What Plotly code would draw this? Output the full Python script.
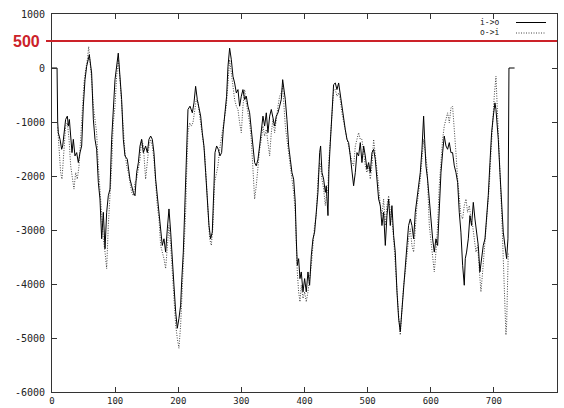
import plotly.graph_objects as go

# i->o series (solid)
io_x = [0, 8, 9, 10, 12.7, 15.3, 16.9, 19, 21.6, 24.3, 25.9, 27.5, 29.6, 31.7, 33.8, 36.4, 39.1, 41.7, 44.4, 47,
        49.6, 52.3, 54.9, 57.5, 59.1, 62.8, 65.5, 68.1, 70.7, 73.4, 76, 78.7, 81.3, 84, 86.6, 89.2, 91.9, 94.5, 97.1, 99.8,
        105, 107.7, 110.3, 113, 115.6, 119.3, 123.5, 126.2, 128.8, 131.5, 134.1, 136.8, 139.4, 142, 144.7,
        148.3, 151, 153.6, 156.3, 158.9, 161.5, 164.2, 166.8, 169.5, 172.1, 174.7, 177.4, 180, 182.7, 185.3, 188, 190.6,
        193.2, 195.9, 198.5, 201.1, 203.8, 205.4, 208, 210.1, 211.7, 213.3, 215.4, 218.6, 222.3, 224.9, 227.5, 230.2,
        232.8, 235.5, 238.1, 240.7, 243.4, 246, 248.7, 251.3, 253.9, 256.6, 258.2, 260.8, 263.4, 266.1, 268.7, 271.4,
        274, 276.6, 278.8, 281.4, 284.1, 286.7, 289.3, 292, 294.6,
        297.2, 299.9, 302.5, 305.2, 307.8, 310.4, 313.1, 315.7, 318.4, 321, 323.6, 326.3, 328.9, 331.6, 334.2, 336.8,
        339.5, 342.1, 344.8, 347.4, 350, 352.7, 355.3, 358, 360.6, 363.2, 365.4, 367.5, 369.6, 372.2, 374.9, 377.5,
        380.1, 382.8, 385.4, 387, 388.6, 390.7, 392.8, 394.9, 397.6, 400.2, 402.8, 405.5, 408.1, 410.8, 413.4, 416,
        418.7, 421.3, 424, 425.5, 427.7, 430.3, 433, 434.5, 437.2, 438.7, 440.9, 443.5,
        446.1, 448.8, 451.4, 454.1, 456.7, 459.3, 462, 464.6, 467.3, 469.9, 472.5, 475.2, 477.8, 480.5, 483.1, 485.7,
        488.4, 491, 493.7, 496.3, 498.9, 501.6, 504.2, 506.9, 509.5, 512.1, 514.8, 517.4, 520.1, 522.7, 525.3, 528,
        530.6, 533.3, 535.9, 538.5, 541.2, 543.8, 546.5, 549.1, 551.7, 554.4, 557, 559.7, 562.3, 564.9, 567.6, 570.2,
        572.9, 575.5, 578.1, 580.8, 583.4, 586.1, 588.7, 590.3, 592.4,
        595, 597.7, 600.3, 603, 605.6, 608.2, 610.9, 613.5, 616.2, 618.8, 621.4, 624.1, 626.7, 629.4, 632, 634.6,
        637.3, 639.9, 642.6, 645.2, 647.8, 650.5, 653.1, 654.7, 656.8, 659.5, 662.1, 664.7, 667.4, 670, 672.7, 675.3,
        677.9, 680.6, 683.2, 685.9, 688.5, 691.1, 693.8, 696.4, 699.1, 701.7, 703.3, 704.9, 707, 709.6, 712.3, 714.9,
        717.5, 720.2, 722.3, 723.3, 723.9, 732.8]
io_y = [0, 0, -1000, -1198, -1321, -1505, -1444, -1198, -953, -891, -1075, -953, -1321, -1567, -1321, -1628, -1567,
        -1751, -1567, -1444, -707, -216, 30, 214, 245, -93, -950, -1321, -1505, -2120, -2426, -3163, -2672, -3347,
        -2672, -2365, -2242, -1321, -707, -216, 275, -93, -584, -1321, -1628, -1689, -2058, -2181, -2303, -2365,
        -1935, -1751, -1444, -1321, -1567,
        -1444, -1567, -1321, -1260, -1321, -1567, -2058, -2365, -2549, -2917, -3286, -3163, -3409, -2979, -2610,
        -3040, -3654, -4023, -4514, -4820, -4636, -4391, -3961, -3409, -2672, -1935, -1321, -768, -707, -830, -646,
        -339, -584, -707, -891, -1198, -1444, -1935, -2426, -2917, -3163, -3040, -2181, -1567, -1444, -1505, -1628,
        -1567, -1137, -830, -523, 30, 367, 153, -154, -277, -461, -400,
        -707, -523, -400, -584, -523, -707, -830, -1137, -1444, -1751, -1812, -1689, -1444, -1198, -891, -1075,
        -830, -1198, -891, -768, -953, -1075, -891, -830, -707, -584, -216, -400, -584, -953, -1444, -1689, -1935,
        -2058, -2488, -3163, -3654, -3531, -3900, -3777, -4145, -3900, -4145, -3777, -4023, -3470, -3163, -3040,
        -2672, -2303, -1567, -1444, -1935, -2058, -2303, -2181, -2733, -1874, -1382, -707,
        -308, -277, -400, -277, -492, -707, -1014, -1137, -1321, -1382, -1628, -1935, -2181, -1935, -1567, -1628,
        -1382, -1751, -1444, -1628, -1874, -1751, -1935, -1567, -1505, -1689, -2058, -2426, -2549, -2917, -2672,
        -3286, -2733, -2426, -2917, -2549, -3102, -3409, -4145, -4636, -4882, -4514, -4145, -3777, -3286, -2917,
        -2795, -2917, -3163, -2672, -2426, -2119, -1935, -1505, -891, -1321, -1812,
        -2058, -2426, -2917, -3163, -3409, -3163, -3286, -2549, -1935, -1567, -1260, -1444, -1505, -1382, -1567,
        -1567, -1812, -1935, -2119, -2672, -3040, -3654, -4023, -3531, -3409, -3163, -2733, -2917, -2488, -2795,
        -3040, -3286, -3777, -3470, -3286, -3163, -2795, -2365, -1751, -1198, -891, -646, -768, -1014, -1321, -1935,
        -2549, -3040, -3286, -3531, -3163, -1935, 0, 0]

# o->i series (dotted)
oi_x = [9, 11.1, 13.7, 15.8, 19, 21.6, 24.3, 27, 29.6, 32.2, 34.8, 37.5, 40.1, 42.8, 45.4, 48, 50.7, 53.3, 56, 58.1,
        60.2, 62.8, 65.5, 68.1, 70.7, 73.4, 76, 78.7, 81.3, 84, 86.6, 89.2, 91.9, 94.5, 97.1, 99.8, 102.4, 105, 107.7,
        110.3, 113, 115.6, 118.3, 120.9, 123.5, 126.2, 128.8, 131.5, 134.1, 136.8, 139.4, 142, 144.7,
        148.3, 151, 153.6, 156.3, 158.9, 161.5, 164.2, 166.8, 169.5, 172.1, 174.7, 177.4, 180, 182.7, 185.3, 188,
        190.6, 193.2, 195.9, 198.5, 201.1, 203.8, 206.4, 209, 211.7, 213.3, 215.4, 218, 220.7, 223.3, 226, 228.6,
        231.2, 233.9, 236.5, 239.2, 241.8, 244.4, 247.1, 249.7, 252.4, 255, 257.6, 260.3, 262.9, 265.6, 268.2, 270.8,
        273.4, 276.1, 278.8, 281.4, 284.1, 286.7, 289.3, 292, 294.6, 297.2,
        299.9, 302.5, 305.2, 307.8, 310.4, 313.1, 315.7, 318.4, 321, 323.6, 326.3, 328.9, 331.6, 334.2, 336.8, 339.5,
        342.1, 344.8, 347.4, 350, 352.7, 355.3, 358, 360.6, 363.2, 365.4, 367.5, 369.6, 372.2, 374.9, 377.5, 380.1,
        382.8, 385.4, 387, 388.6, 390.7, 392.8, 394.9, 397.6, 400.2, 402.8, 405.5, 408.1, 410.8, 413.4, 416, 418.7,
        421.3, 424, 425.5, 427.7, 430.3, 433, 434.5, 437.2, 438.7, 440.9, 443.5, 446.2,
        448.8, 451.4, 454.1, 456.7, 459.3, 462, 464.6, 467.3, 469.9, 472.5, 475.2, 477.8, 480.5, 483.1, 485.7, 488.4,
        491, 493.7, 496.3, 498.9, 501.6, 504.2, 506.9, 509.5, 512.1, 514.8, 517.4, 520.1, 522.7, 525.3, 528, 530.6,
        533.3, 535.9, 538.5, 541.2, 543.8, 546.5, 549.1, 551.7, 554.4, 557, 559.7, 562.3, 564.9, 567.6, 570.2, 572.9,
        575.5, 578.1, 580.8, 583.4, 586.1, 588.7, 591.4, 594,
        597.7, 600.3, 603, 605.6, 608.2, 610.9, 613.5, 616.2, 618.8, 621.4, 624.1, 626.7, 629.4, 632, 634.6, 637.3,
        639.9, 642.6, 645.2, 647.8, 650.5, 653.1, 655.8, 658.4, 661.1, 663.7, 666.3, 669, 671.6, 674.2, 676.9, 679.5,
        682.2, 684.8, 687.4, 690.1, 692.7, 695.4, 698, 700.6, 703.3, 704.9, 707, 709.6, 712.3, 714.9, 717.5, 719.1,
        720.2, 721.8, 722.8]
oi_y = [-1100, -1567, -1935, -2058, -1505, -1075, -1014, -1321, -1812, -2058, -2242, -1935, -2058, -1812, -1321, -830,
        -277, -32, 153, 398, 153, -216, -707, -953, -1198, -1812, -2303, -2856, -3163, -3409, -3715, -2917, -2426,
        -1812, -1014, -707, -154, 153, -216, -707, -1198, -1567, -1812, -1935, -2119, -2303, -2365, -2119, -2058,
        -1874, -1689, -1321, -1444,
        -2058, -1689, -1444, -1321, -1444, -1689, -2181, -2549, -2795, -3286, -3409, -3531, -3715, -3286, -2917,
        -3286, -3777, -4268, -4759, -5005, -5189, -4759, -4145, -3531, -2672, -1935, -1198, -1014, -1075, -1014,
        -768, -584, -646, -891, -1075, -1321, -1567, -2058, -2672, -3163, -3286, -2917, -2119, -1935, -1812, -1505,
        -1321, -1075, -953, -707, -277, 153, -93, -339, -584, -707, -768, -1014,
        -1198, -707, -400, -646, -830, -1014, -1321, -1812, -2426, -2181, -1812, -1505, -1321, -1075, -1260, -1137,
        -1382, -1628, -1198, -953, -1198, -891, -707, -523, -461, -339, -707, -1075, -1321, -1567, -1812, -2058,
        -2303, -2672, -3286, -3777, -4145, -4330, -4023, -4268, -4145, -4330, -4145, -3900, -3654, -3286, -2917,
        -2733, -2058, -1751, -1812, -2058, -2242, -2549, -2365, -2242, -1689, -1321, -830, -400,
        -400, -523, -461, -584, -830, -1014, -1198, -1321, -1444, -1567, -1751, -1812, -1444, -1321, -1198, -1321,
        -1321, -1567, -1812, -1935, -1812, -2058, -1812, -1321, -1567, -1935, -2181, -2549, -2733, -2426, -2917,
        -2549, -2365, -2672, -2795, -3163, -3654, -4268, -4575, -4944, -4391, -4023, -3777, -3409, -3163, -2979,
        -3286, -3409, -2917, -2549, -2303, -2058, -1689, -1321, -1567, -1812,
        -2917, -3163, -3470, -3777, -3409, -2917, -2181, -1689, -1321, -1075, -953, -830, -1014, -738, -707, -1075,
        -1567, -2058, -2426, -2733, -2795, -2549, -2426, -2672, -2549, -2795, -2917, -3163, -3409, -3286, -3654,
        -4145, -3777, -3409, -3040, -2549, -2181, -1567, -953, -523, -154, -584, -1075, -1812, -2672, -3531, -4268,
        -4944, -4759, -3777, -3409]

x_ticks = [0, 100, 200, 300, 400, 500, 600, 700, 800]
y_ticks = [-6000, -5000, -4000, -3000, -2000, -1000, 0, 1000]
threshold = 500
series_names = ["i->o", "o->i"]

W, H = 564, 408
L, R, T, B = 52, 7, 14, 16
pw, ph = W - L - R, H - T - B

fig = go.Figure()
fig.add_trace(go.Scatter(x=oi_x, y=oi_y, mode="lines", name=series_names[1],
                         line=dict(color="#444444", width=1, dash="1px,1.5px")))
fig.add_trace(go.Scatter(x=io_x, y=io_y, mode="lines", name=series_names[0],
                         line=dict(color="#000000", width=1)))

axis_common = dict(showgrid=False, zeroline=False, showline=True, linecolor="#333333", linewidth=1,
                   mirror="ticks", ticks="inside", ticklen=5, tickcolor="#333333", automargin=False)

fig.update_layout(
    width=W, height=H,
    margin=dict(l=L, r=R, t=T, b=B),
    paper_bgcolor="white", plot_bgcolor="white",
    showlegend=False,
    xaxis=dict(range=[0, 800], tickvals=x_ticks, ticktext=[str(v) for v in x_ticks],
               ticklabelstandoff=0,
               tickfont=dict(family="DejaVu Sans Mono", size=9, color="#222222"), **axis_common),
    yaxis=dict(range=[-6000, 1000], tickvals=y_ticks, ticktext=[str(v) for v in y_ticks],
               ticklabelstandoff=4,
               tickfont=dict(family="DejaVu Sans Mono", size=10, color="#222222"), **axis_common),
)

# threshold line with its label
fig.add_shape(type="line", xref="paper", yref="y", x0=-6 / pw, x1=1, y0=threshold, y1=threshold,
              line=dict(color="#cc2229", width=2))
fig.add_annotation(xref="paper", yref="y", x=-10 / pw, y=threshold, text=str(threshold), showarrow=False,
                   xanchor="right", yanchor="middle",
                   font=dict(family="Liberation Sans", size=16, color="#cc2229", weight="bold"))

# key in the top-right corner: label text, then line sample
key_rows = [(22.5, series_names[0], dict(color="#000000", width=1)),
            (33, series_names[1], dict(color="#444444", width=1, dash="1px,1.5px"))]
for py, label, ln in key_rows:
    yp = (H - B - py) / ph
    fig.add_annotation(xref="paper", yref="paper", x=(501 - L) / pw, y=yp, text=label, showarrow=False,
                       xanchor="right", yanchor="middle",
                       font=dict(family="DejaVu Sans Mono", size=8, color="#222222"))
    fig.add_shape(type="line", xref="paper", yref="paper", x0=(516 - L) / pw, x1=(546 - L) / pw,
                  y0=yp, y1=yp, line=ln)

fig.write_html("out.html")
